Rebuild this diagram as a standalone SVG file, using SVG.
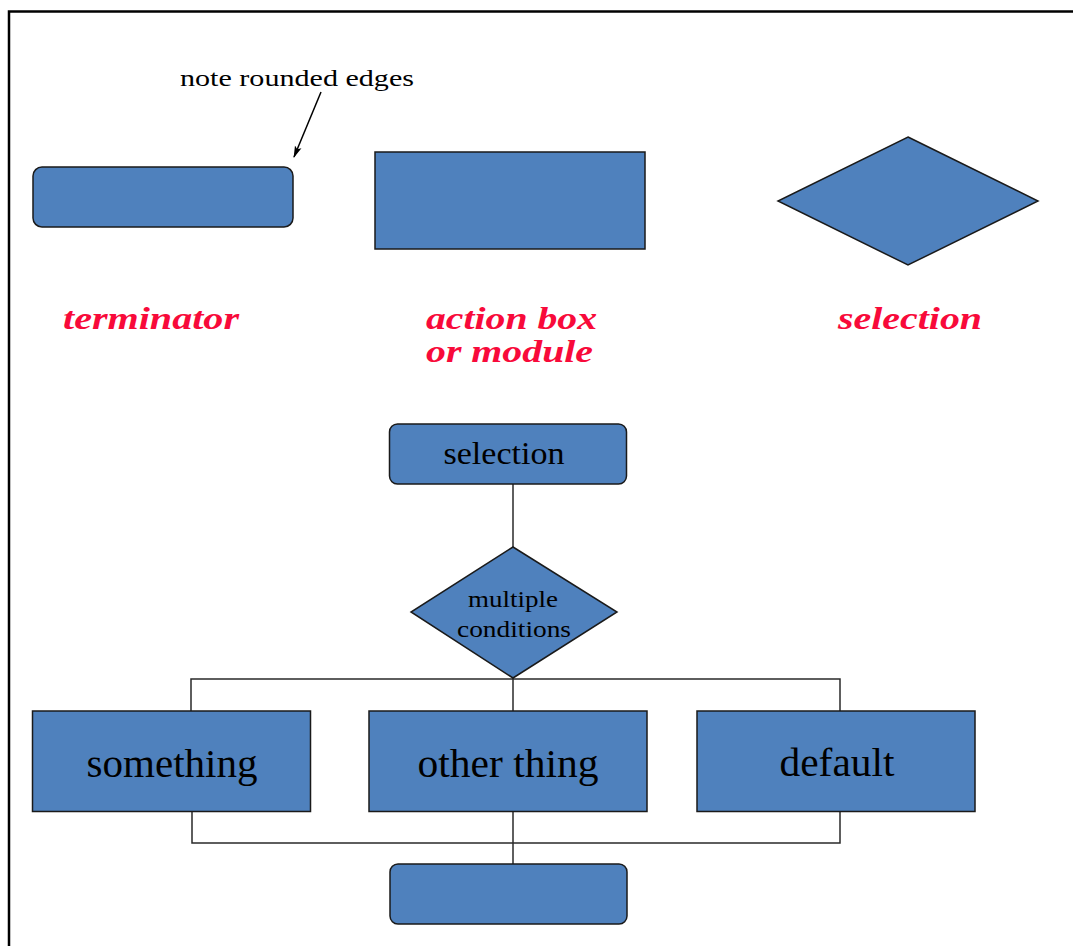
<svg xmlns="http://www.w3.org/2000/svg" width="1073" height="946" viewBox="0 0 1073 946">
  <style>
    .shape { fill: #4f81bd; stroke: #1a1a1a; stroke-width: 1.5; }
    .wire { fill: none; stroke: #2a2a2a; stroke-width: 1.5; }
    .label { font-family: "Liberation Serif", "Times New Roman", serif; fill: #000; text-anchor: middle; }
    .caption { font-family: "Liberation Serif", "Times New Roman", serif; font-weight: bold; font-style: italic; fill: #f80a3a; font-size: 32px; }
  </style>
  <defs>
    <marker id="arrowHead" viewBox="0 0 12 10" refX="11" refY="5" markerWidth="12" markerHeight="10" markerUnits="userSpaceOnUse" orient="auto">
      <path d="M0,1.5 L12,5 L0,8.5 L2.5,5 Z" fill="#000"/>
    </marker>
  </defs>

  <rect width="1073" height="946" fill="#fff"/>
  <!-- page frame (top and left edges) -->
  <path d="M9,946 V11.5 H1073" fill="none" stroke="#000" stroke-width="2.5"/>

  <!-- legend row -->
  <g id="note">
    <text class="label" x="297" y="86" font-size="23" textLength="234" lengthAdjust="spacingAndGlyphs">note rounded edges</text>
  </g>
  <g id="terminator-sample">
    <rect class="shape" x="33" y="167" width="260" height="60" rx="9"/>
  </g>
  <g id="action-sample">
    <rect class="shape" x="375" y="152" width="270" height="97"/>
  </g>
  <g id="selection-sample">
    <polygon class="shape" points="908,137 1038,201 908,265 778,201"/>
  </g>
  <g id="captions">
    <text class="caption" x="63" y="329" textLength="176" lengthAdjust="spacingAndGlyphs">terminator</text>
    <text class="caption" x="426" y="329" textLength="171" lengthAdjust="spacingAndGlyphs">action box</text>
    <text class="caption" x="426" y="362" textLength="167" lengthAdjust="spacingAndGlyphs">or module</text>
    <text class="caption" x="838" y="329" textLength="144" lengthAdjust="spacingAndGlyphs">selection</text>
  </g>

  <!-- connectors -->
  <g id="connectors">
    <line x1="321" y1="92" x2="294" y2="157" stroke="#000" stroke-width="1.5" marker-end="url(#arrowHead)"/>
    <line class="wire" x1="513" y1="484" x2="513" y2="547"/>
    <path class="wire" d="M191,711 V679 H840 V711"/>
    <line class="wire" x1="513" y1="678" x2="513" y2="711"/>
    <path class="wire" d="M192,811 V843 H840 V811"/>
    <line class="wire" x1="513" y1="811" x2="513" y2="864"/>
  </g>

  <!-- flow nodes -->
  <g id="start-selection">
    <rect class="shape" x="389.5" y="424" width="237" height="60" rx="8"/>
    <text class="label" x="504" y="464" font-size="32" textLength="121" lengthAdjust="spacingAndGlyphs">selection</text>
  </g>
  <g id="conditions">
    <polygon class="shape" points="513,547 617,612 513,678 411,612"/>
    <text class="label" x="513" y="607" font-size="23" textLength="90" lengthAdjust="spacingAndGlyphs">multiple</text>
    <text class="label" x="514" y="637" font-size="23" textLength="114" lengthAdjust="spacingAndGlyphs">conditions</text>
  </g>
  <g id="case-something">
    <rect class="shape" x="32.5" y="711" width="278" height="100.5"/>
    <text class="label" x="172" y="777" font-size="41" textLength="171" lengthAdjust="spacingAndGlyphs">something</text>
  </g>
  <g id="case-other">
    <rect class="shape" x="369" y="711" width="278" height="100.5"/>
    <text class="label" x="508" y="777" font-size="41" textLength="181" lengthAdjust="spacingAndGlyphs">other thing</text>
  </g>
  <g id="case-default">
    <rect class="shape" x="697" y="711" width="278" height="100.5"/>
    <text class="label" x="837" y="776" font-size="41" textLength="115" lengthAdjust="spacingAndGlyphs">default</text>
  </g>
  <g id="end">
    <rect class="shape" x="390" y="864" width="237" height="60" rx="8"/>
  </g>
</svg>
